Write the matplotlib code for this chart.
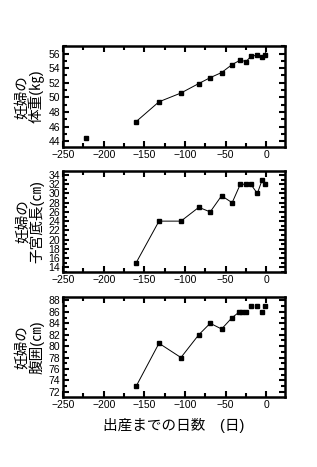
import matplotlib
matplotlib.use("Agg")
import matplotlib.pyplot as plt
from matplotlib.ticker import MultipleLocator

plt.rcParams['font.family'] = ['Liberation Sans', 'Noto Sans CJK JP', 'DejaVu Sans']

# days before delivery
days = [-160, -132, -105, -83, -69, -55, -42, -32, -25, -19, -11, -5, -1]

# weight (kg); one early point at -222 not joined to the line
weight_early_day = [-222]
weight_early = [44.5]
weight = [46.7, 49.4, 50.6, 51.9, 52.7, 53.4, 54.5, 55.1, 54.9, 55.6, 55.8, 55.5, 55.8]

# fundal height (cm)
fundal = [15, 24, 24, 27, 26, 29.5, 28, 32, 32, 32, 30, 33, 32]

# abdominal girth (cm)
girth_days = [-160, -132, -105, -83, -69, -55, -42, -33, -30, -25, -19, -11, -5, -1]
girth = [73, 80.5, 78, 82, 84, 83, 85, 86, 86, 86, 87, 87, 86, 87]
girth_joined = 9

fig = plt.figure(figsize=(3.17, 4.67), dpi=100)
ax1 = fig.add_axes([0.199, 0.685, 0.700, 0.216])
ax2 = fig.add_axes([0.199, 0.418, 0.700, 0.216])
ax3 = fig.add_axes([0.199, 0.150, 0.700, 0.214])

mk = dict(marker='s', markersize=3.4, color='black', linewidth=0.7)
lab = dict(fontsize=10.5, linespacing=0.95, labelpad=3)

ax1.plot(days + [0], weight + [57.6], **mk, markevery=list(range(len(days))))
ax1.plot(weight_early_day, weight_early, 's', markersize=3.4, color='black')
ax1.set_ylim(43.2, 57)
ax1.yaxis.set_major_locator(MultipleLocator(2))
ax1.yaxis.set_minor_locator(MultipleLocator(1))
ax1.set_ylabel('妊婦の\n体重(㎏)', **lab)

ax2.plot(days, fundal, **mk)
ax2.set_ylim(13, 34.9)
ax2.yaxis.set_major_locator(MultipleLocator(2))
ax2.yaxis.set_minor_locator(MultipleLocator(1))
ax2.set_ylabel('妊婦の\n子宮底長(㎝)', **lab)

ax3.plot(girth_days[:girth_joined], girth[:girth_joined], **mk)
ax3.plot(girth_days[girth_joined:], girth[girth_joined:], 's', markersize=3.4, color='black')
ax3.set_ylim(71.1, 88.6)
ax3.yaxis.set_major_locator(MultipleLocator(2))
ax3.yaxis.set_minor_locator(MultipleLocator(1))
ax3.set_ylabel('妊婦の\n腹囲(㎝)', **lab)
ax3.set_xlabel('出産までの日数　(日)', fontsize=10.5, labelpad=6)

for ax in (ax1, ax2, ax3):
    ax.set_xlim(-250, 23)
    ax.xaxis.set_major_locator(MultipleLocator(50))
    ax.xaxis.set_minor_locator(MultipleLocator(25))
    ax.tick_params(which='both', direction='in', top=True, right=True,
                   width=1.5, labelsize=7.5, pad=2)
    ax.tick_params(which='major', length=4)
    ax.tick_params(which='minor', length=3)
    for s in ax.spines.values():
        s.set_linewidth(1.8)

fig.savefig('out.png', dpi=100)
